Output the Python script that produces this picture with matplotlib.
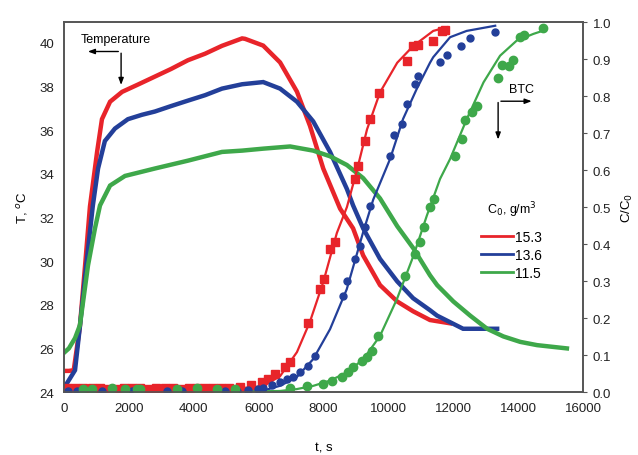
import matplotlib.pyplot as plt

plt.rcParams['font.family'] = ['Liberation Sans', 'DejaVu Sans']

RED = "#e8242a"
BLUE = "#233f99"
GREEN = "#3ea84a"

# temperature records, T in degC
t_temp_red = [0, 150, 300, 490, 650, 800, 1020, 1170, 1420, 1790, 2300, 2800, 3300, 3820, 4350,
              4870, 5490, 5580, 6140, 6660, 7180, 7580, 7990, 8510, 8910, 9220, 9740, 10270,
              10760, 11280, 11900]
T_red = [24.97, 24.97, 25.0, 27.0, 29.8, 32.5, 35.0, 36.5, 37.3, 37.75, 38.1, 38.45, 38.8, 39.2, 39.5,
         39.86, 40.2, 40.18, 39.87, 39.1, 37.76, 36.2, 34.24, 32.4, 31.5, 30.26, 28.9, 28.15,
         27.7, 27.3, 27.15]

t_temp_blue = [0, 90, 340, 490, 700, 890, 1050, 1260, 1570, 1970, 2400, 2800, 3300, 3820, 4350,
               4870, 5490, 6140, 6660, 7180, 7680, 8200, 8720, 8910, 9220, 9740, 10270, 10760,
               11280, 11500, 12300, 13350]
T_blue = [24.3, 24.4, 25.0, 27.0, 30.0, 32.55, 34.24, 35.5, 36.07, 36.5, 36.7, 36.85, 37.1, 37.35, 37.6,
          37.9, 38.1, 38.2, 37.9, 37.3, 36.4, 35.0, 33.3, 32.55, 31.5, 30.1, 29.07, 28.3,
          27.75, 27.5, 26.9, 26.9]

t_temp_green = [0, 150, 340, 490, 740, 955, 1110, 1420, 1880, 2800, 3820, 4870, 5490, 6140, 6970,
                7680, 8200, 8720, 9220, 9740, 10270, 10760, 11280, 11500, 12000, 12520, 13040,
                13540, 14060, 14580, 15500]
T_green = [25.8, 26.0, 26.47, 27.06, 29.8, 31.5, 32.55, 33.46, 33.9, 34.24, 34.6, 35.0, 35.06, 35.15, 35.25,
           35.06, 34.8, 34.4, 33.8, 32.87, 31.6, 30.6, 29.35, 28.9, 28.15, 27.5, 26.9,
           26.55, 26.3, 26.15, 26.0]

# breakthrough curves, C/C0 (fitted lines)
t_fit_red = [0, 2000, 4000, 5120, 6140, 6660, 7180, 7580, 7990, 8410, 8720, 9030, 9340, 9740,
             10270, 10760, 11380, 11800]
c_fit_red = [0.005, 0.005, 0.006, 0.008, 0.016, 0.043, 0.108, 0.19, 0.297, 0.43, 0.50, 0.60, 0.71, 0.81,
             0.89, 0.935, 0.976, 0.986]

t_fit_blue = [0, 2000, 4000, 5500, 6140, 6660, 7170, 7680, 8200, 8715, 9220, 9530, 10050, 10450,
              10870, 11280, 11380, 11900, 12410, 13290]
c_fit_blue = [0.002, 0.002, 0.002, 0.003, 0.004, 0.017, 0.04, 0.089, 0.17, 0.278, 0.432, 0.52, 0.63, 0.738,
              0.819, 0.89, 0.905, 0.959, 0.976, 0.99]

t_fit_green = [0, 3000, 6000, 6660, 7170, 7690, 8200, 8715, 9230, 9740, 10260, 10770, 11180, 11590,
               11900, 12415, 12930, 13440, 13955, 14470, 14780]
c_fit_green = [0.002, 0.002, 0.002, 0.003, 0.008, 0.017, 0.031, 0.053, 0.089, 0.152, 0.251, 0.368, 0.476, 0.576,
               0.63, 0.738, 0.837, 0.909, 0.95, 0.968, 0.977]

# breakthrough curves, C/C0 (measured)
t_pts_red = [100, 350, 600, 850, 1100, 1350, 1600, 1850, 2100, 2350, 2600, 2850, 3100, 3350, 3600,
             3850, 4100, 4350, 4600, 4850, 5100, 5430, 5750, 6090, 6300, 6505, 6810, 6970, 7530,
             7890, 8020, 8200, 8350, 8970, 9075, 9280, 9430, 9720, 10565, 10760, 10915, 11370,
             11640, 11750]
c_pts_red = [0.01, 0.01, 0.01, 0.01, 0.01, 0.009, 0.008, 0.01, 0.01, 0.01, 0.009, 0.01, 0.01, 0.01, 0.009,
             0.01, 0.01, 0.01, 0.01, 0.012, 0.012, 0.013, 0.018, 0.028, 0.035, 0.049, 0.067, 0.08, 0.187,
             0.278, 0.305, 0.386, 0.405, 0.577, 0.612, 0.679, 0.738, 0.808, 0.895, 0.936, 0.938, 0.948,
             0.977, 0.979]

t_pts_blue = [120, 400, 1170, 2100, 3180, 3640, 4960, 5325, 5670, 5985, 6140, 6400, 6660, 6865, 7060,
              7280, 7530, 7740, 8610, 8715, 8970, 9125, 9280, 9435, 10050, 10175, 10430, 10565,
              10820, 10925, 11590, 11800, 12230, 12500, 13290]
c_pts_blue = [0.004, 0.004, 0.004, 0.004, 0.004, 0.004, 0.004, 0.004, 0.006, 0.008, 0.011, 0.019, 0.027,
              0.035, 0.04, 0.054, 0.071, 0.098, 0.26, 0.30, 0.36, 0.395, 0.445, 0.503, 0.639, 0.695,
              0.724, 0.778, 0.832, 0.853, 0.891, 0.911, 0.936, 0.956, 0.974]

t_pts_green = [590, 860, 1480, 1880, 2250, 2340, 3480, 4100, 4720, 5270, 6970, 7480, 7995, 8250, 8560,
               8765, 8920, 9180, 9330, 9485, 9690, 10510, 10820, 10975, 11100, 11280, 11410, 12050,
               12260, 12360, 12570, 12740, 13390, 13490, 13730, 13830, 14060, 14180, 14760]
c_pts_green = [0.008, 0.008, 0.01, 0.009, 0.009, 0.009, 0.009, 0.01, 0.008, 0.008, 0.01, 0.016, 0.022,
               0.03, 0.04, 0.053, 0.067, 0.085, 0.094, 0.112, 0.152, 0.314, 0.373, 0.405, 0.445, 0.499,
               0.523, 0.639, 0.684, 0.736, 0.756, 0.774, 0.849, 0.884, 0.882, 0.898, 0.959, 0.966,
               0.983]

legend_labels = ["15.3", "13.6", "11.5"]

fig = plt.figure(figsize=(6.38, 4.56), dpi=100)
ax = fig.add_axes([0.1003, 0.138, 0.8137, 0.8115])
ax2 = ax.twinx()

# temperature: thick traces
ax.plot(t_temp_red, T_red, color=RED, lw=3.2, solid_joinstyle="miter", label=legend_labels[0])
ax.plot(t_temp_blue, T_blue, color=BLUE, lw=3.2, solid_joinstyle="miter", label=legend_labels[1])
ax.plot(t_temp_green, T_green, color=GREEN, lw=3.2, solid_joinstyle="miter", label=legend_labels[2])

# BTC fits and measured points
ax2.plot(t_fit_red, c_fit_red, color=RED, lw=1.6)
ax2.plot(t_fit_blue, c_fit_blue, color=BLUE, lw=1.6)
ax2.plot(t_fit_green, c_fit_green, color=GREEN, lw=1.6)
ax2.plot(t_pts_red, c_pts_red, ls="none", marker="s", ms=6, color=RED)
ax2.plot(t_pts_blue, c_pts_blue, ls="none", marker="o", ms=5, color=BLUE)
ax2.plot(t_pts_green, c_pts_green, ls="none", marker="o", ms=6, color=GREEN)

ax.set_xlim(0, 16000)
ax.set_ylim(24, 40.95)
ax.set_xticks(range(0, 16001, 2000))
ax.set_yticks(range(24, 41, 2))
ax2.set_ylim(0, 1.0)
ax2.set_yticks([i / 10 for i in range(11)])
ax2.set_yticklabels([f"{i / 10:.1f}" for i in range(11)])

for a in (ax, ax2):
    for s in a.spines.values():
        s.set_color("#555555")
        s.set_linewidth(1.2)
ax.tick_params(axis="both", length=0, labelsize=9.5, colors="#222222", pad=7)
ax2.tick_params(axis="y", length=3, direction="out", labelsize=9.5, colors="#222222", pad=4)
ax2.tick_params(axis="y", color="#555555")

ax.set_xlabel("t, s", fontsize=9.5, labelpad=20)
ax.set_ylabel("T, $^o$C", fontsize=9.5, labelpad=7)
ax2.set_ylabel("C/C$_0$", fontsize=9.5, labelpad=6)

# annotation arrows
arrow = dict(arrowstyle="-|>,head_length=0.4,head_width=0.15", color="black", lw=1)
ax.annotate("", xy=(650, 39.6), xytext=(1760, 39.6), arrowprops=arrow)
ax.annotate("", xy=(1760, 37.94), xytext=(1760, 39.65), arrowprops=arrow)
ax.text(520, 40.15, "Temperature", fontsize=9, ha="left", va="center")

ax2.annotate("", xy=(14500, 0.786), xytext=(13380, 0.786), arrowprops=arrow)
ax2.annotate("", xy=(13380, 0.675), xytext=(13380, 0.79), arrowprops=arrow)
ax2.text(13700, 0.819, "BTC", fontsize=9, ha="left", va="center")

leg = ax.legend(loc="upper left", bbox_to_anchor=(0.78, 0.555), frameon=False, fontsize=10,
                title="C$_0$, g/m$^3$", title_fontsize=9, handlelength=2.3, handletextpad=0.1,
                labelspacing=0.3)
leg._legend_box.sep = 8
for line in leg.get_lines():
    line.set_linewidth(2)

fig.savefig("out.png", dpi=100)
